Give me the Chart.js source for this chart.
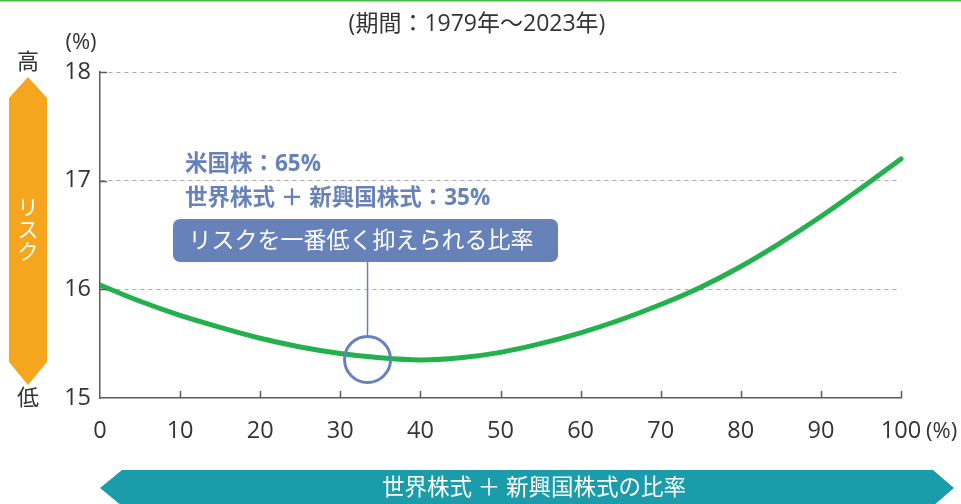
<!DOCTYPE html>
<html>
<head>
<meta charset="utf-8">
<script src="https://cdn.jsdelivr.net/npm/chart.js@4.4.1/dist/chart.umd.min.js"></script>
<style>
  html, body { margin: 0; padding: 0; background: #fff; }
  #wrap { width: 961px; height: 504px; position: relative; }
</style>
</head>
<body>
<div id="wrap"><canvas id="c" width="961" height="504"></canvas></div>
<script>
// ---- data ----
const sharePct = [0, 5, 10, 15, 20, 25, 30, 35, 40, 45, 50, 55, 60, 65, 70, 75, 80, 85, 90, 95, 100];
const riskPct  = [16.04, 15.89, 15.76, 15.65, 15.55, 15.47, 15.41, 15.37, 15.35, 15.37, 15.42, 15.50, 15.60, 15.72, 15.86, 16.02, 16.21, 16.43, 16.67, 16.93, 17.20];
const yTickValues = [15, 16, 17, 18];
const xTickValues = [0, 10, 20, 30, 40, 50, 60, 70, 80, 90, 100];
const minRiskMark = { x: 33.4, y: 15.355 };

const titleText = '(期間：1979年～2023年)';
const noteLine1 = '米国株：65%';
const noteLine2 = '世界株式 ＋ 新興国株式：35%';
const boxText = 'リスクを一番低く抑えられる比率';
const xAxisTitle = '世界株式 ＋ 新興国株式の比率';
const yAxisTitle = 'リスク';

const JP = '"Open Sans", "Noto Sans CJK JP", sans-serif';
const BLUE = '#6781b9';
const AXIS = '#5a5a5a';

const decor = {
  id: 'decor',
  afterDraw(chart) {
    const ctx = chart.ctx;
    const xs = chart.scales.x, ys = chart.scales.y;
    const ca = chart.chartArea;
    ctx.save();
    // top green rule
    ctx.fillStyle = '#4cb848';
    ctx.fillRect(0, 0, 961, 1.5);

    // title
    ctx.fillStyle = '#333';
    ctx.font = '23px ' + JP;
    ctx.textAlign = 'center';
    ctx.textBaseline = 'middle';
    ctx.fillText(titleText, 477, 24);

    // (%) for y axis
    ctx.font = '22px ' + JP;
    ctx.fillText('(%)', 81, 43);
    // (%) for x axis
    ctx.textAlign = 'left';
    ctx.fillText('(%)', 926, 432);

    // inward ticks
    ctx.strokeStyle = AXIS;
    ctx.lineWidth = 1.5;
    ctx.beginPath();
    xTickValues.forEach(v => {
      if (v === 0) return;
      const px = Math.round(xs.getPixelForValue(v)) + 0.5;
      ctx.moveTo(px, ca.bottom);
      ctx.lineTo(px, ca.bottom - 7);
    });
    yTickValues.forEach(v => {
      if (v === 15) return;
      const py = Math.round(ys.getPixelForValue(v)) + 0.5;
      ctx.moveTo(ca.left, py);
      ctx.lineTo(ca.left + 7, py);
    });
    ctx.stroke();

    // orange risk arrow
    ctx.fillStyle = '#f6a51e';
    ctx.beginPath();
    ctx.moveTo(28, 77); ctx.lineTo(47, 98); ctx.lineTo(47, 362);
    ctx.lineTo(28, 385); ctx.lineTo(9, 362); ctx.lineTo(9, 98);
    ctx.closePath(); ctx.fill();
    ctx.fillStyle = '#fff';
    ctx.font = '21px ' + JP;
    ctx.textAlign = 'center';
    ctx.textBaseline = 'middle';
    const chars = Array.from(yAxisTitle);
    chars.forEach((ch, i) => ctx.fillText(ch, 28, 209 + i * 22));

    ctx.fillStyle = '#333';
    ctx.font = '22px ' + JP;
    ctx.fillText('高', 28, 63);
    ctx.fillText('低', 28, 399);

    // teal bottom arrow
    ctx.fillStyle = '#1b9cab';
    ctx.beginPath();
    ctx.moveTo(100, 488); ctx.lineTo(122, 470); ctx.lineTo(933, 470);
    ctx.lineTo(954, 488); ctx.lineTo(933, 506); ctx.lineTo(122, 506);
    ctx.closePath(); ctx.fill();
    ctx.fillStyle = '#fff';
    ctx.font = '22.5px ' + JP;
    ctx.fillText(xAxisTitle, 534, 489);

    // annotation texts
    ctx.fillStyle = BLUE;
    ctx.font = 'bold 22.5px ' + JP;
    ctx.textAlign = 'left';
    ctx.fillText(noteLine1, 185, 165);
    ctx.fillText(noteLine2, 185, 199);

    // box
    const bx = 173, by = 219, bw = 385, bh = 43, r = 7;
    ctx.beginPath();
    ctx.moveTo(bx + r, by);
    ctx.arcTo(bx + bw, by, bx + bw, by + bh, r);
    ctx.arcTo(bx + bw, by + bh, bx, by + bh, r);
    ctx.arcTo(bx, by + bh, bx, by, r);
    ctx.arcTo(bx, by, bx + bw, by, r);
    ctx.closePath();
    ctx.fillStyle = BLUE;
    ctx.fill();
    ctx.fillStyle = '#fff';
    ctx.font = '23px ' + JP;
    ctx.textAlign = 'center';
    ctx.fillText(boxText, 361, by + bh / 2 + 1);

    // circle + connector
    const cx = xs.getPixelForValue(minRiskMark.x);
    const cy = ys.getPixelForValue(minRiskMark.y);
    const cr = 23;
    ctx.strokeStyle = BLUE;
    ctx.lineWidth = 1.5;
    ctx.beginPath();
    ctx.moveTo(cx, by + bh);
    ctx.lineTo(cx, cy - cr);
    ctx.stroke();
    ctx.lineWidth = 3;
    ctx.beginPath();
    ctx.arc(cx, cy, cr, 0, Math.PI * 2);
    ctx.stroke();
    ctx.restore();
  }
};

new Chart(document.getElementById('c'), {
  type: 'line',
  data: {
    datasets: [{
      data: sharePct.map((x, i) => ({ x: x, y: riskPct[i] })),
      borderColor: '#22b14c',
      borderWidth: 5,
      pointRadius: 0,
      cubicInterpolationMode: 'monotone',
      borderCapStyle: 'round',
      clip: { left: 0, right: 6, top: 6, bottom: 6 }
    }]
  },
  options: {
    responsive: false,
    animation: false,
    devicePixelRatio: 1,
    layout: { padding: { top: 72, right: 60, bottom: 0, left: 0 } },
    plugins: { legend: { display: false }, tooltip: { enabled: false } },
    scales: {
      x: {
        type: 'linear', min: 0, max: 100,
        afterFit(s) { s.height = 106; },
        afterBuildTicks(s) { s.ticks = xTickValues.map(v => ({ value: v })); },
        grid: { display: false, drawTicks: false },
        border: { display: true, color: AXIS, width: 1.5 },
        ticks: { color: '#333', font: { family: JP, size: 23.5 }, padding: 19, maxRotation: 0 }
      },
      y: {
        min: 15, max: 18,
        afterFit(s) { s.width = 100; },
        afterBuildTicks(s) { s.ticks = yTickValues.map(v => ({ value: v })); },
        grid: {
          drawTicks: false,
          color: ctx => (ctx.tick && ctx.tick.value === 15) ? 'rgba(0,0,0,0)' : '#a8a8a8',
          lineWidth: 1
        },
        border: { display: true, color: AXIS, width: 1.5, dash: [4, 4] },
        ticks: { color: '#333', font: { family: JP, size: 23.5 }, padding: 9 }
      }
    }
  },
  plugins: [decor]
});
</script>
</body>
</html>
